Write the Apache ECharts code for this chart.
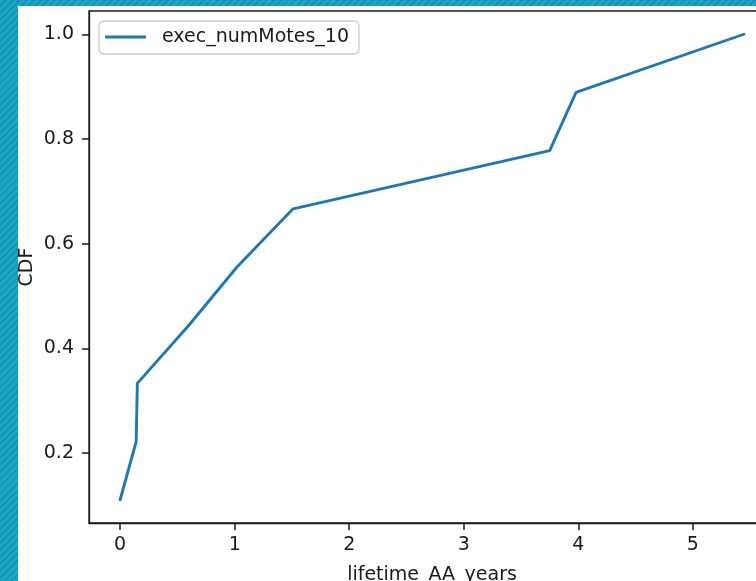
<!DOCTYPE html>
<html>
<head>
<meta charset="utf-8">
<script src="https://cdn.jsdelivr.net/npm/echarts@6/dist/echarts.min.js"></script>
<style>
  html, body { margin: 0; padding: 0; width: 756px; height: 581px; overflow: hidden; }
  body {
    background: repeating-linear-gradient(135deg, #1ca6c6 0px, #1ca6c6 3px, #1792b4 3px, #1792b4 5px);
    position: relative;
  }
  #paper { position: absolute; left: 18px; top: 6px; width: 738px; height: 575px; background: #ffffff; }
  #chart { position: absolute; left: 0; top: 0; width: 820px; height: 640px; }
</style>
</head>
<body>
<div id="paper"></div>
<div id="chart"></div>
<script>
// Data
const seriesName = 'exec_numMotes_10';
const xValues = [0, 0.14, 0.15, 0.6, 1.02, 1.51, 3.75, 3.98, 5.445];
const cdfValues = [0.1111, 0.2222, 0.3333, 0.4444, 0.5556, 0.6667, 0.7778, 0.8889, 1.0];
const xTicks = [0, 1, 2, 3, 4, 5];
const yTicks = [0.2, 0.4, 0.6, 0.8, 1.0];
const xAxisName = 'lifetime_AA_years';
const yAxisName = 'CDF';

const points = xValues.map((x, i) => [x, cdfValues[i]]);

const chart = echarts.init(document.getElementById('chart'), null, { renderer: 'canvas' });
const font = 'DejaVu Sans';
const ink = '#1a1a1a';

chart.setOption({
  animation: false,
  backgroundColor: 'transparent',
  grid: {
    left: 89, top: 11, width: 686, height: 512,
    show: true, borderColor: ink, borderWidth: 1.3, backgroundColor: 'transparent'
  },
  legend: {
    show: true,
    left: 99, top: 21,
    padding: [5, 10, 6, 6],
    backgroundColor: 'rgba(255,255,255,0.8)',
    borderColor: '#cccccc', borderWidth: 1.3, borderRadius: 5,
    itemWidth: 41, itemHeight: 14,
    textStyle: { fontFamily: font, fontSize: 19, color: ink, lineHeight: 22, padding: [0, 0, 0, 11] },
    data: [{ name: seriesName, icon: 'path://M0,6.5 L41,6.5 L41,9.5 L0,9.5 Z', itemStyle: { color: '#1f77b4' } }]
  },
  xAxis: {
    type: 'value',
    min: -0.272, max: 5.717,
    name: xAxisName, nameLocation: 'middle', nameGap: 43,
    nameTextStyle: { fontFamily: font, fontSize: 19, color: ink },
    axisLine: { show: true, onZero: false, lineStyle: { color: ink, width: 1.3 } },
    splitLine: { show: false },
    axisTick: { show: true, inside: false, length: 7, lineStyle: { color: ink, width: 1.5 }, customValues: xTicks },
    axisLabel: { show: true, margin: 13, fontFamily: font, fontSize: 19, color: ink, customValues: xTicks,
                 formatter: v => String(v) }
  },
  yAxis: {
    type: 'value',
    min: 0.0667, max: 1.0444,
    name: yAxisName, nameLocation: 'middle', nameGap: 52, nameRotate: 90, nameMoveOverlap: false,
    nameTextStyle: { fontFamily: font, fontSize: 19, color: ink },
    axisLine: { show: true, onZero: false, lineStyle: { color: ink, width: 1.3 } },
    splitLine: { show: false },
    axisTick: { show: true, inside: false, length: 7, lineStyle: { color: ink, width: 1.5 }, customValues: yTicks },
    axisLabel: { show: true, margin: 15, fontFamily: font, fontSize: 19, color: ink, customValues: yTicks,
                 formatter: v => v.toFixed(1) }
  },
  series: [{
    name: seriesName,
    type: 'line',
    data: points,
    symbol: 'none',
    clip: true,
    lineStyle: { color: '#1f77b4', width: 2.9, join: 'round', cap: 'round' },
    itemStyle: { color: '#1f77b4' }
  }]
});
</script>
</body>
</html>
